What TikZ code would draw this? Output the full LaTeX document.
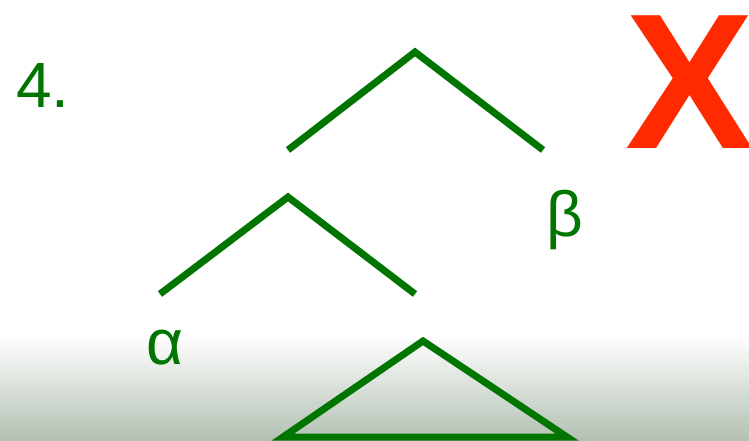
\documentclass[tikz,border=0pt]{standalone}
\usepackage{fontspec}
\setmainfont{Liberation Sans}
\definecolor{tgreen}{RGB}{0,118,0}
\definecolor{xred}{RGB}{255,42,0}
\definecolor{bgbot}{RGB}{178,192,178}
\begin{document}
\begin{tikzpicture}[x=1pt,y=-1pt,
  branch/.style={draw=tgreen,line width=7pt},
  lbl/.style={text=tgreen,inner sep=0pt,font=\fontsize{64}{70}\selectfont}]
\useasboundingbox (0,0) rectangle (749,441);
\clip (0,0) rectangle (749,441);
\fill[white] (0,0) rectangle (749,336);
\shade[top color=white,bottom color=bgbot] (0,335) rectangle (749,441);
% top tree
\coordinate (r) at (415,52);
\coordinate (rl) at (288,150);
\coordinate (rr) at (543,150);
\draw[branch] (rl) -- (r) -- (rr);
% second tree
\coordinate (s) at (288,197);
\coordinate (sl) at (160,294);
\coordinate (sr) at (415,294);
\draw[branch] (sl) -- (s) -- (sr);
% triangle
\coordinate (t) at (423,341);
\coordinate (tl) at (283,437);
\coordinate (tr) at (567,437);
\draw[branch,line join=miter] (t) -- (tl) -- (tr) -- cycle;
% labels
\node[lbl,anchor=base west] (num) at (16,107) {4.};
\node[lbl,anchor=base] (beta) at (565,236) {β};
\node[lbl,anchor=base] (alpha) at (165,364) {α};
\node[text=xred,inner sep=0pt,anchor=base west,font=\fontsize{193}{200}\selectfont\bfseries] (x) at (625,148) {X};
\end{tikzpicture}
\end{document}
